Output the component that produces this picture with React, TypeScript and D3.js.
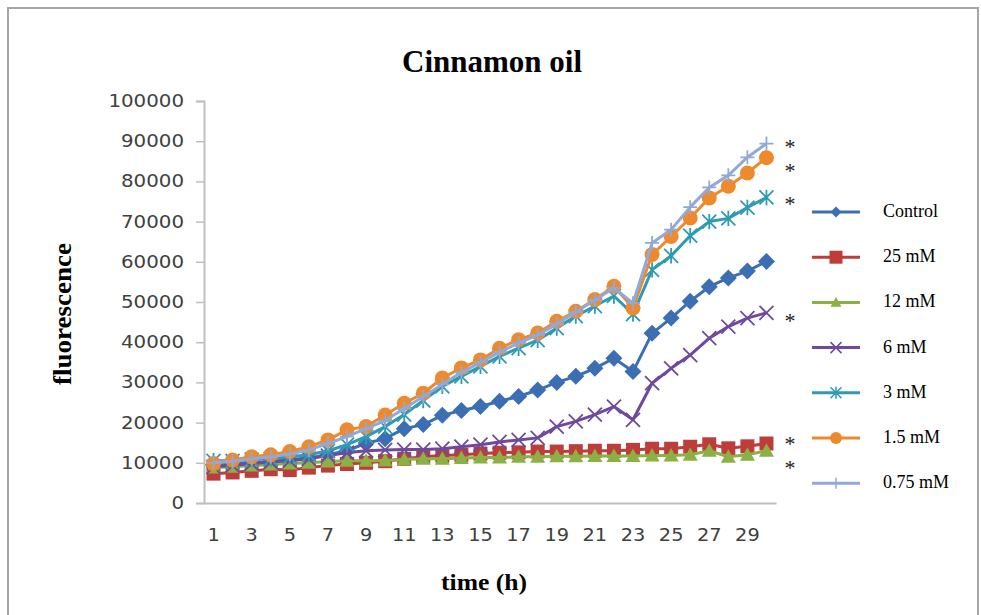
import React, { useEffect, useRef } from 'react';
import * as d3 from 'd3';

// time points (h)
const hours = [1, 2, 3, 4, 5, 6, 7, 8, 9, 10, 11, 12, 13, 14, 15, 16, 17, 18, 19, 20, 21, 22, 23, 24, 25, 26, 27, 28, 29, 30];
const hourTicks = [1, 3, 5, 7, 9, 11, 13, 15, 17, 19, 21, 23, 25, 27, 29];
const valueTicks = [0, 10000, 20000, 30000, 40000, 50000, 60000, 70000, 80000, 90000, 100000];

// fluorescence readings per treatment
const control = [9500, 9800, 10000, 10300, 10800, 11200, 12000, 13000, 14900, 16000, 18500, 19500, 21800, 23000, 24000, 25300, 26500, 28100, 30000, 31500, 33500, 36000, 32700, 42200, 46000, 50200, 53800, 56000, 57700, 60100];
const mM25 = [7300, 7600, 8000, 8400, 8200, 8800, 9300, 9700, 10000, 10400, 11000, 11500, 11800, 12000, 12300, 12500, 12600, 12800, 12800, 12900, 13000, 13000, 13200, 13500, 13500, 14000, 14600, 13600, 14100, 14800];
const mM12 = [8800, 9000, 9300, 9600, 9800, 10000, 10300, 10500, 10500, 10600, 10800, 11000, 11000, 11200, 11300, 11300, 11500, 11500, 11600, 11600, 11700, 11700, 11700, 11800, 11800, 12000, 13000, 11500, 12000, 13000];
const mM6 = [9000, 9300, 9800, 10200, 10500, 11000, 11800, 12500, 13000, 13200, 13300, 13300, 13500, 14000, 14500, 15200, 15700, 16200, 19000, 20300, 22000, 24000, 20700, 29800, 33500, 36800, 41000, 43900, 46000, 47300];
const mM3 = [10500, 10500, 10800, 11000, 11500, 12000, 13000, 14500, 16500, 19000, 22000, 25500, 29000, 31500, 34000, 36500, 38500, 40500, 43500, 46500, 49000, 51500, 47000, 58000, 61500, 66500, 70000, 70800, 73500, 76000];
const mM1_5 = [9800, 10700, 11500, 12000, 12800, 14000, 15700, 18200, 19000, 21900, 24800, 27300, 31100, 33600, 35600, 38500, 40600, 42300, 45200, 47700, 50600, 53900, 48500, 61800, 66300, 70900, 75900, 78800, 82100, 85900];
const mM0_75 = [10000, 10400, 11000, 11500, 12200, 13200, 14800, 16500, 18500, 20500, 23500, 26500, 29500, 32500, 35000, 37500, 39800, 41800, 44500, 47500, 50500, 53500, 49700, 64700, 68000, 73600, 78500, 81500, 86000, 89400];

const seriesNames = ['Control', '25 mM', '12 mM', '6 mM', '3 mM', '1.5 mM', '0.75 mM'];
const seriesValues = [control, mM25, mM12, mM6, mM3, mM1_5, mM0_75];
const seriesColors = ['#3c6eb4', '#be3d3b', '#8bb043', '#6e4a9e', '#2f9bb3', '#ee8a2e', '#91a9d9'];
const seriesMarkers = ['diamond', 'square', 'triangle', 'x', 'star', 'circle', 'plus'];

// significance marks placed beside the final readings
const starLevels = [89200, 83400, 75100, 46000, 15500, 9500];

const W = 981;
const H = 615;
const plot = { left: 204, right: 776, top: 101, bottom: 503 };

function markerPath(kind: string, r: number): string {
  switch (kind) {
    case 'diamond':
      return `M0,${-r}L${r},0L0,${r}L${-r},0Z`;
    case 'square':
      return `M${-r},${-r}H${r}V${r}H${-r}Z`;
    case 'triangle':
      return `M0,${-r}L${r},${r * 0.8}L${-r},${r * 0.8}Z`;
    case 'circle':
      return `M${r},0A${r},${r} 0 1,1 ${-r},0A${r},${r} 0 1,1 ${r},0Z`;
    case 'x':
      return `M${-r},${-r}L${r},${r}M${-r},${r}L${r},${-r}`;
    case 'star':
      return `M${-r},${-r}L${r},${r}M${-r},${r}L${r},${-r}M0,${-r * 1.1}V${r * 1.1}`;
    case 'plus':
      return `M${-r},0H${r}M0,${-r}V${r}`;
    default:
      return '';
  }
}

function isFilled(kind: string) {
  return kind === 'diamond' || kind === 'square' || kind === 'triangle' || kind === 'circle';
}

function markerSize(kind: string): number {
  switch (kind) {
    case 'diamond': return 8.5;
    case 'square': return 7;
    case 'triangle': return 7.5;
    case 'circle': return 7.5;
    default: return 7;
  }
}

export default function App() {
  const yAxisRef = useRef<SVGGElement>(null);
  const xAxisRef = useRef<SVGGElement>(null);

  const x = d3.scaleBand<number>().domain(hours).range([plot.left, plot.right]).paddingInner(0).paddingOuter(0);
  const cx = (h: number) => (x(h) as number) + x.bandwidth() / 2;
  const y = d3.scaleLinear().domain([0, 100000]).range([plot.bottom, plot.top]);

  const line = d3.line<number>()
    .x((_, i) => cx(hours[i]))
    .y((v) => y(v));

  useEffect(() => {
    const ya = d3.select(yAxisRef.current as SVGGElement);
    ya.selectAll('*').remove();
    ya.call(d3.axisLeft(y).tickValues(valueTicks).tickSize(8).tickPadding(12).tickFormat((d) => String(d)));
    ya.select('.domain').attr('stroke', '#bfbfbf').attr('stroke-width', 2);
    ya.selectAll('.tick line').attr('stroke', '#bfbfbf').attr('stroke-width', 1.5);
    ya.selectAll<SVGTextElement, number>('.tick text')
      .attr('font-family', 'DejaVu Sans')
      .attr('font-size', 17)
      .attr('fill', '#404040')
      .attr('textLength', (d) => String(d).length * 12.6)
      .attr('lengthAdjust', 'spacingAndGlyphs');

    const xa = d3.select(xAxisRef.current as SVGGElement);
    xa.selectAll('*').remove();
    xa.call(d3.axisBottom(x).tickValues(hourTicks).tickSize(0).tickPadding(26).tickFormat((d) => String(d)));
    xa.select('.domain').attr('stroke', '#bfbfbf').attr('stroke-width', 2);
    xa.selectAll<SVGTextElement, number>('.tick text')
      .attr('font-family', 'DejaVu Sans')
      .attr('font-size', 17)
      .attr('fill', '#404040')
      .attr('textLength', (d) => String(d).length * 12.3)
      .attr('lengthAdjust', 'spacingAndGlyphs');
  }, []);

  const legendX = 812;
  const legendY0 = 212;
  const legendStep = 45.2;

  return (
    <svg width={W} height={H} style={{ position: 'absolute', left: 0, top: 0, background: '#fff' }}>
      <rect x={0} y={0} width={W} height={H} fill="#fff" />
      <rect x={8} y={8} width={970} height={640} fill="none" stroke="#a6a6a6" strokeWidth={2} />

      <text x={492} y={72} textAnchor="middle" fontFamily="Liberation Serif" fontWeight="bold" fontSize={31}
        textLength={180} lengthAdjust="spacingAndGlyphs" fill="#000">Cinnamon oil</text>

      <text transform="translate(71,314) rotate(-90)" textAnchor="middle" fontFamily="Liberation Serif" fontWeight="bold"
        fontSize={26} textLength={142} lengthAdjust="spacingAndGlyphs" fill="#000">fluorescence</text>

      <text x={484} y={590} textAnchor="middle" fontFamily="Liberation Serif" fontWeight="bold" fontSize={24}
        textLength={86} lengthAdjust="spacingAndGlyphs" fill="#000">time (h)</text>

      <g ref={yAxisRef} transform={`translate(${plot.left},0)`} />
      <g ref={xAxisRef} transform={`translate(0,${plot.bottom})`} />

      {seriesValues.map((vals, si) => {
        const kind = seriesMarkers[si];
        const color = seriesColors[si];
        const r = markerSize(kind);
        return (
          <g key={seriesNames[si]}>
            <path d={line(vals) || ''} fill="none" stroke={color} strokeWidth={3} strokeLinejoin="round" />
            {vals.map((v, i) => (
              <path key={i} transform={`translate(${cx(hours[i])},${y(v)})`} d={markerPath(kind, r)}
                fill={isFilled(kind) ? color : 'none'} stroke={color} strokeWidth={isFilled(kind) ? 0 : 1.8} />
            ))}
          </g>
        );
      })}

      {starLevels.map((v, i) => (
        <text key={i} x={790} y={y(v) + 10} textAnchor="middle" fontFamily="Liberation Serif" fontSize={20}
          textLength={11} lengthAdjust="spacingAndGlyphs" fill="#222">*</text>
      ))}

      {seriesNames.map((name, si) => {
        const ly = legendY0 + si * legendStep;
        const kind = seriesMarkers[si];
        const color = seriesColors[si];
        const r = kind === 'square' ? 6.5 : kind === 'circle' ? 6 : 5.5;
        return (
          <g key={name}>
            <line x1={legendX} x2={legendX + 48} y1={ly} y2={ly} stroke={color} strokeWidth={3} />
            <path transform={`translate(${legendX + 24},${ly})`} d={markerPath(kind, r)}
              fill={isFilled(kind) ? color : 'none'} stroke={color} strokeWidth={isFilled(kind) ? 0 : 1.5} />
            <text x={883} y={ly + 5} fontFamily="Liberation Serif" fontSize={18} fill="#000">{name}</text>
          </g>
        );
      })}
    </svg>
  );
}
